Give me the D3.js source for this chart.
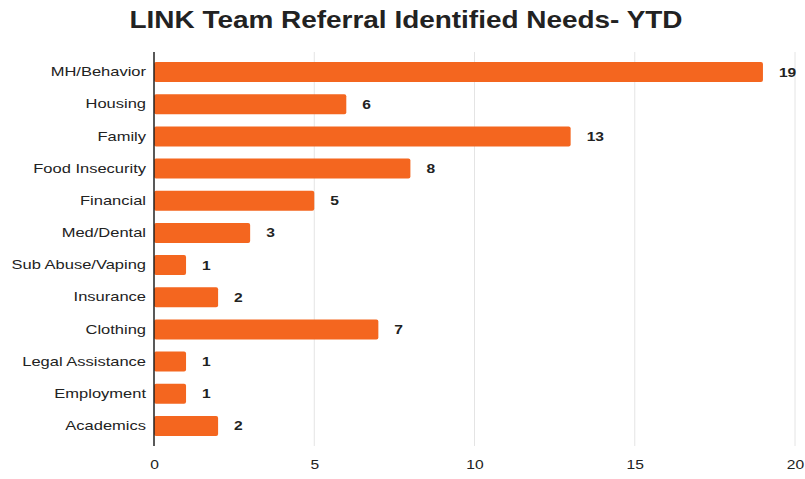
<!DOCTYPE html>
<html>
<head>
<meta charset="utf-8">
<script src="https://cdn.jsdelivr.net/npm/d3@7"></script>
<style>
  html, body { margin: 0; padding: 0; background: #fff; }
  svg { display: block; font-family: "Liberation Sans", Arial, sans-serif; }
</style>
</head>
<body>
<svg id="chart" width="805" height="479"></svg>
<script>
const categories = ["MH/Behavior", "Housing", "Family", "Food Insecurity", "Financial", "Med/Dental",
  "Sub Abuse/Vaping", "Insurance", "Clothing", "Legal Assistance", "Employment", "Academics"];
const values = [19, 6, 13, 8, 5, 3, 1, 2, 7, 1, 1, 2];
const xTicks = [0, 5, 10, 15, 20];
const title = "LINK Team Referral Identified Needs- YTD";

const svg = d3.select("#chart");
const x = d3.scaleLinear().domain([0, 20]).range([154, 795]);
const y = d3.scaleBand().domain(categories).range([56, 442]).paddingInner(0.38).paddingOuter(0.19);
const sx = 1.27; // horizontal stretch of the original's lettering

svg.append("text")
  .attr("x", 406).attr("y", 28)
  .attr("text-anchor", "middle")
  .attr("font-size", 24).attr("font-weight", "bold").attr("fill", "#222")
  .attr("textLength", 553).attr("lengthAdjust", "spacingAndGlyphs")
  .text(title);

// gridlines
svg.append("g").selectAll("line").data(xTicks.filter(d => d > 0)).join("line")
  .attr("x1", d => x(d)).attr("x2", d => x(d))
  .attr("y1", 52).attr("y2", 446)
  .attr("stroke", "#e4e4e4").attr("stroke-width", 1);

// bars
svg.append("g").selectAll("rect").data(values).join("rect")
  .attr("x", x(0))
  .attr("y", (d, i) => y(categories[i]))
  .attr("width", d => x(d) - x(0))
  .attr("height", y.bandwidth())
  .attr("rx", 2)
  .attr("fill", "#f4661f");

// value labels
svg.append("g").selectAll("text").data(values).join("text")
  .attr("transform", (d, i) => `translate(${x(d) + 16},${y(categories[i]) + y.bandwidth() / 2}) scale(1.2,1)`)
  .attr("dy", "0.35em")
  .attr("font-size", 13).attr("font-weight", "bold").attr("fill", "#222")
  .text(d => d);

// y axis
const yAxis = d3.axisLeft(y).tickSize(0).tickPadding(7);
const gy = svg.append("g").attr("transform", `translate(${x(0)},0)`).call(yAxis);
gy.select(".domain").remove();
gy.selectAll("text").attr("font-size", 13).attr("fill", "#222")
  .attr("x", -8 / sx)
  .attr("transform", `scale(${sx},1)`)
  .style("font-family", "'Liberation Sans', Arial, sans-serif");
svg.append("line").attr("x1", x(0)).attr("x2", x(0)).attr("y1", 52).attr("y2", 446)
  .attr("stroke", "#222").attr("stroke-width", 1.5);

// x axis
const xAxis = d3.axisBottom(x).tickValues(xTicks).tickSize(0).tickPadding(0);
const gx = svg.append("g").attr("transform", "translate(0,460)").call(xAxis);
gx.select(".domain").remove();
gx.selectAll("text").attr("font-size", 13).attr("fill", "#222")
  .attr("transform", "scale(1.2,1)")
  .style("font-family", "'Liberation Sans', Arial, sans-serif");
</script>
</body>
</html>
